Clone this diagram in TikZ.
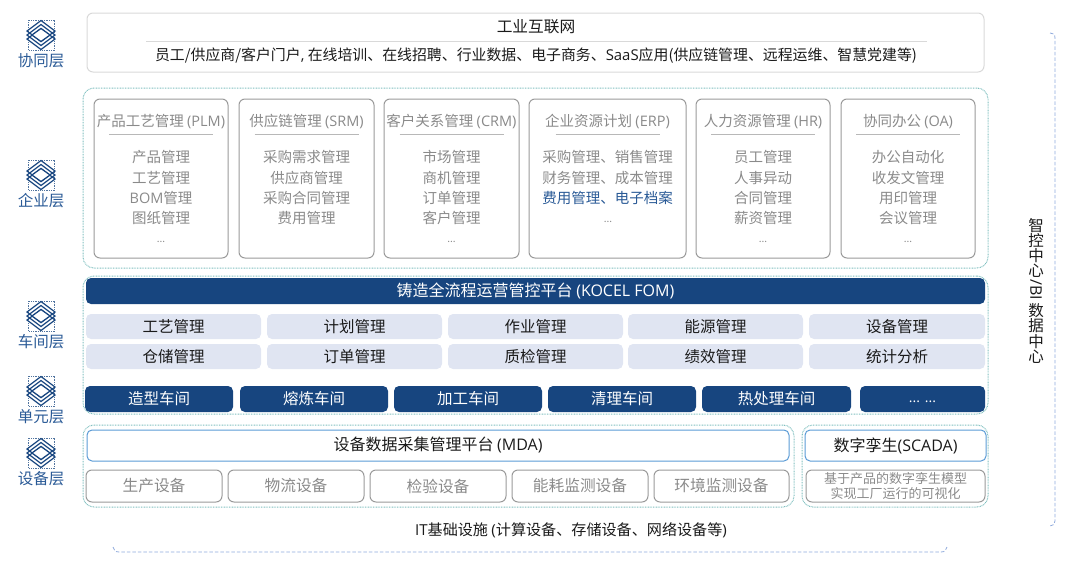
\documentclass[tikz,border=0pt]{standalone}
\usepackage{fontspec}
\setmainfont{Noto Sans CJK SC}
\newfontfamily\lat{Open Sans}
\definecolor{navy}{HTML}{17457F}
\definecolor{pale}{HTML}{E0E5F2}
\definecolor{teal1}{HTML}{7FBFBF}
\definecolor{grayline}{HTML}{9A9A9A}
\definecolor{graytext}{HTML}{8A8A8A}
\definecolor{blueline}{HTML}{5B9BD5}
\definecolor{dashblue}{HTML}{8FAADC}
\definecolor{ink}{HTML}{1A1A1A}
\definecolor{labelblue}{HTML}{2A5A96}
\definecolor{topline}{HTML}{D9D9D9}
\newcommand{\fz}[2]{\fontsize{#1}{#2}\selectfont}
\tikzset{
 outerdot/.style={draw=teal1,line width=1pt,dash pattern=on 0.8pt off 0.8pt,rounded corners=11pt},
 modbox/.style={draw=grayline,line width=1pt,rounded corners=6pt},
 graybox/.style={draw=grayline,line width=1pt,rounded corners=6pt,text=graytext,font=\fz{15.7}{16}},
 palebox/.style={fill=pale,rounded corners=5pt,text=ink,font=\fz{15.5}{16}},
 darkbox/.style={fill=navy,rounded corners=5pt,text=white,font=\fz{15.5}{16}},
 fombox/.style={fill=navy,rounded corners=5pt,text=white,font=\fz{16}{16}},
 bluebox/.style={draw=blueline,line width=1pt,rounded corners=5pt,text=ink,font=\fz{16}{16}},
 modtext/.style={text=graytext,font=\fz{14.5}{15},inner sep=0pt,yshift=-0.8pt},
 sep/.style={draw=grayline!70,line width=0.6pt},
 bracket/.style={draw=dashblue,line width=0.8pt,dash pattern=on 3.5pt off 2pt},
 layername/.style={text=labelblue,font=\fz{15.5}{16},inner sep=0pt,yshift=-0.6pt},
 vchar/.style={inner sep=0pt,text=ink,font=\fz{15.5}{16}},
 icon/.pic={
  \draw[navy!75,line width=1pt,dash pattern=on 1.2pt off 1pt] (-13,-15) rectangle (13,15);
  \fill[white] (-14,0) -- (0,-14.5) -- (14,0) -- (0,14.5) -- cycle;
  \foreach \d in {-4,0,4}
   \draw[navy,line width=1.2pt] (-14,\d) -- (0,\d-10.5) -- (14,\d) -- (0,\d+10.5) -- cycle;
  \draw[navy,line width=1.2pt,fill=white] (-9,0) -- (0,-6.5) -- (9,0) -- (0,6.5) -- cycle;
 }
}
\newcommand{\sizedbox}[7]{% name, style, x1,y1,x2,y2, text
 \node[#2,minimum width=#5pt-#3pt,minimum height=#6pt-#4pt,inner sep=0pt] (#1) at ({(#3+#5)/2},{(#4+#6)/2}) {\raisebox{-1.3pt}{#7}};}
\newcommand{\module}[8]{% name,x1,x2,title,l1,l2,l3,l4
 \sizedbox{#1}{modbox}{#2}{99}{#3}{258}{}
 \node[modtext] (#1t) at ({(#2+#3)/2},121) {#4};
 \coordinate (#1sl) at ({(#2+#3)/2-52},134.5);
 \coordinate (#1sr) at ({(#2+#3)/2+52},134.5);
 \draw[sep] (#1sl) -- (#1sr);
 \node[modtext] (#1a) at ({(#2+#3)/2},156) {#5};
 \node[modtext] (#1b) at ({(#2+#3)/2},177) {#6};
 \node[modtext] (#1c) at ({(#2+#3)/2},197) {#7};
 \node[modtext] (#1d) at ({(#2+#3)/2},217) {#8};
}
\newcommand{\dotsmark}[2]{\node[modtext,font=\fz{10}{10}] (#1) at (#2) {...};}
\begin{document}
\begin{tikzpicture}[x=1pt,y=-1pt]
\useasboundingbox (0,0) rectangle (1080,581);
% layer labels
\foreach \n/\iy/\ly/\t in {a/35/60/协同层,b/175/200/企业层,c/316/341/车间层,d/391/416/单元层,e/453/478/设备层}{
 \pic at (41,\iy) {icon};
 \node[layername] (layer\n) at (41,\ly) {\t};
}
% top
\sizedbox{top}{draw=topline,line width=1pt,rounded corners=6pt}{87}{13}{984}{72}{}
\node[inner sep=0pt,text=ink,font=\fz{15.7}{16}] (toptitle) at (536,27) {工业互联网};
\coordinate (topsl) at (146,41); \coordinate (topsr) at (927,41);
\draw[topline,line width=0.7pt] (topsl) -- (topsr);
\node[inner sep=0pt,text=ink,font=\fz{14.9}{15},yshift=-0.6pt] (toptext) at (536,55) {员工/供应商/客户门户{\lat ,} 在线培训、在线招聘、行业数据、电子商务、{\lat SaaS}应用({\lat }供应链管理、远程运维、智慧党建等)};
% outer dotted
\sizedbox{entouter}{outerdot}{83}{88}{988}{268}{}
\sizedbox{shopouter}{outerdot}{83}{276}{988}{414}{}
\sizedbox{mdaouter}{outerdot}{83}{425}{794}{507}{}
\sizedbox{scadaouter}{outerdot}{802}{425}{988}{507}{}
% modules
\module{plm}{94}{228}{产品工艺管理 {\lat (PLM)}}{产品管理}{工艺管理}{{\lat BOM}管理}{图纸管理}
\dotsmark{plmz}{161,241}
\module{srm}{239}{374}{供应链管理 {\lat (SRM)}}{采购需求管理}{供应商管理}{采购合同管理}{费用管理}
\module{crm}{384}{519}{客户关系管理 {\lat (CRM)}}{市场管理}{商机管理}{订单管理}{客户管理}
\dotsmark{crmz}{451.5,241}
\module{erp}{529}{686}{企业资源计划 {\lat (ERP)}}{采购管理、销售管理}{财务管理、成本管理}{\textcolor{labelblue}{费用管理、电子档案}}{}
\dotsmark{erpz}{608,221}
\module{hr}{696}{830}{人力资源管理 {\lat (HR)}}{员工管理}{人事异动}{合同管理}{薪资管理}
\dotsmark{hrz}{763,241}
\module{oa}{841}{975}{协同办公 {\lat (OA)}}{办公自动化}{收发文管理}{用印管理}{会议管理}
\dotsmark{oaz}{908,241}
% shop
\sizedbox{fom}{fombox}{86}{278}{985}{304}{铸造全流程运营管控平台 {\lat (KOCEL FOM)}}
\sizedbox{p1}{palebox}{86}{314}{261}{339}{工艺管理}
\sizedbox{p2}{palebox}{267}{314}{442}{339}{计划管理}
\sizedbox{p3}{palebox}{448}{314}{623}{339}{作业管理}
\sizedbox{p4}{palebox}{628}{314}{803}{339}{能源管理}
\sizedbox{p5}{palebox}{809}{314}{985}{339}{设备管理}
\sizedbox{q1}{palebox}{86}{344}{261}{369}{仓储管理}
\sizedbox{q2}{palebox}{267}{344}{442}{369}{订单管理}
\sizedbox{q3}{palebox}{448}{344}{623}{369}{质检管理}
\sizedbox{q4}{palebox}{628}{344}{803}{369}{绩效管理}
\sizedbox{q5}{palebox}{809}{344}{985}{369}{统计分析}
\sizedbox{w1}{darkbox}{85}{386}{233}{412}{造型车间}
\sizedbox{w2}{darkbox}{240}{386}{388}{412}{熔炼车间}
\sizedbox{w3}{darkbox}{394}{386}{542}{412}{加工车间}
\sizedbox{w4}{darkbox}{548}{386}{696}{412}{清理车间}
\sizedbox{w5}{darkbox}{702}{386}{851}{412}{热处理车间}
\sizedbox{w6}{darkbox}{860}{386}{985}{412}{\raisebox{-5pt}{\lat\fz{14}{14}... ...}}
% device
\sizedbox{mda}{bluebox}{87}{430}{789}{461}{设备数据采集管理平台 {\lat (MDA)}}
\sizedbox{scada}{bluebox}{805}{430}{986}{461}{数字孪生{\lat (SCADA)}}
\sizedbox{d1}{graybox}{86}{470}{222}{502}{生产设备}
\sizedbox{d2}{graybox}{228}{470}{364}{502}{物流设备}
\sizedbox{d3}{graybox}{370}{470}{506}{502}{检验设备}
\sizedbox{d4}{graybox}{512}{470}{648}{502}{能耗监测设备}
\sizedbox{d5}{graybox}{654}{470}{789}{502}{环境监测设备}
\sizedbox{d6}{graybox}{806}{470}{985}{502}{}
\node[inner sep=0pt,text=graytext,font=\fz{13}{13}] (d6a) at (895.5,479) {基于产品的数字孪生模型};
\node[inner sep=0pt,text=graytext,font=\fz{13}{13}] (d6b) at (895.5,494) {实现工厂运行的可视化};
% infra
\node[inner sep=0pt,text=ink,font=\fz{15.1}{15}] (infra) at (571,530) {{\lat IT}基础设施 {\lat (}计算设备、存储设备、网络设备等{\lat )}};
\coordinate (bb1) at (113,547); \coordinate (bb2) at (947,547);
\draw[bracket] (bb1) .. controls (114,550) and (115,552) .. (119,552) -- (941,552) .. controls (945,552) and (946,550) .. (bb2);
\coordinate (rb1) at (1050,33); \coordinate (rb2) at (1050,526);
\draw[bracket] (rb1) .. controls (1053,33) and (1055,34) .. (1055,38) -- (1055,521) .. controls (1055,524) and (1053,526) .. (rb2);
% vertical text
\node[vchar] (v1) at (1036,226) {智};
\node[vchar] (v2) at (1036,241) {控};
\node[vchar] (v3) at (1036,256) {中};
\node[vchar] (v4) at (1036,271) {心};
\node[vchar,rotate=-90] (v5) at (1036,290) {\lat\fz{16}{16}/BI};
\node[vchar] (v6) at (1036,311) {数};
\node[vchar] (v7) at (1036,326) {据};
\node[vchar] (v8) at (1036,342) {中};
\node[vchar] (v9) at (1036,357) {心};
\end{tikzpicture}
\end{document}
